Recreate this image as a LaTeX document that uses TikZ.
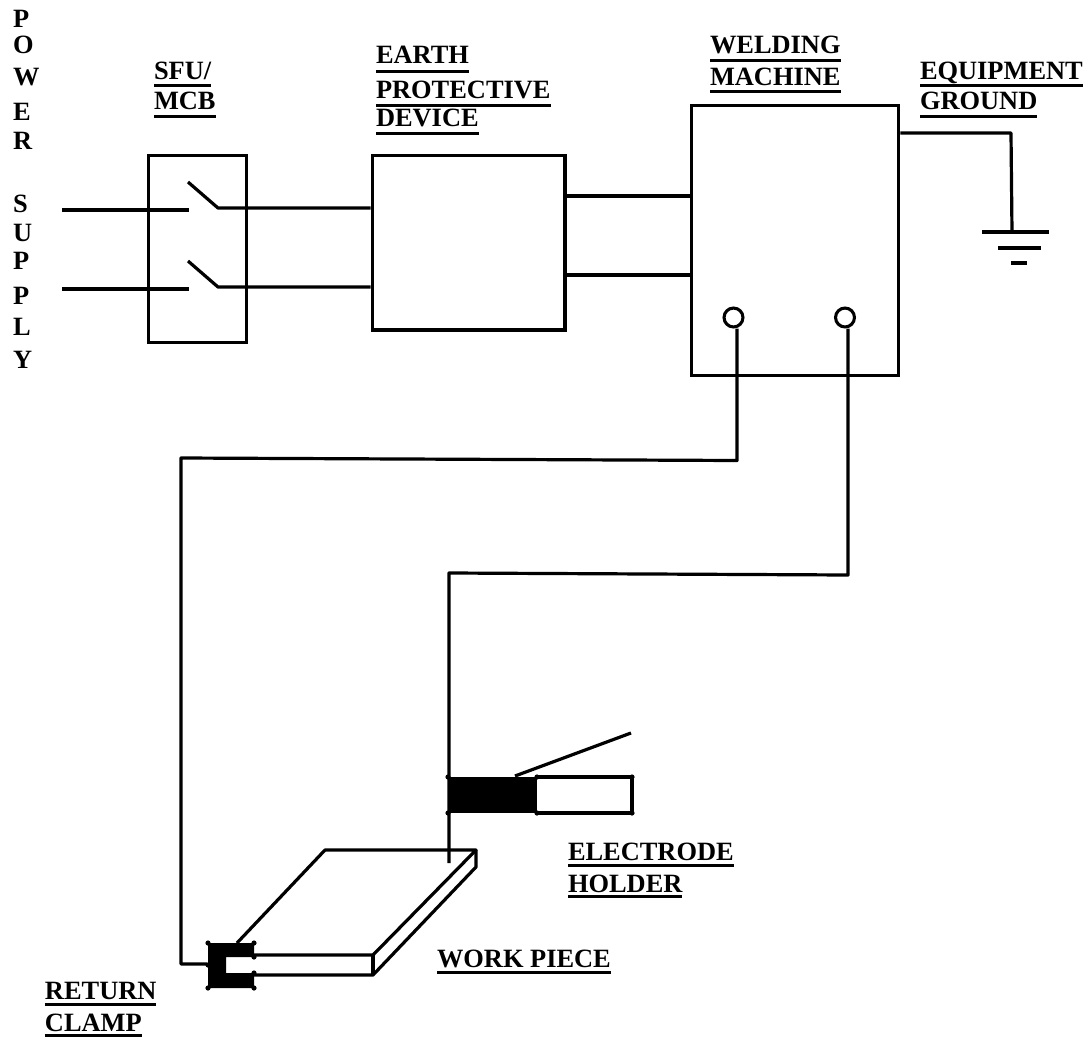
\documentclass[tikz,border=0pt]{standalone}
\usepackage{fontspec}
\setmainfont{Liberation Serif}
\newlength{\pxu}\setlength{\pxu}{0.75pt}
\newsavebox{\ulbox}
% \ulword[offset of the rule below the baseline, in px]{text}
\newcommand{\ulword}[2][7]{\sbox{\ulbox}{#2}\rlap{\usebox{\ulbox}}\vrule height \dimexpr-#1\pxu+1.5\pxu\relax depth \dimexpr#1\pxu+1.5\pxu\relax width \wd\ulbox}
\tikzset{
  px/.style={x=0.75pt,y=-0.75pt},
  wire/.style={line width=2.4pt,draw=black,line cap=butt,line join=round},
  box/.style={line width=2.5pt,draw=black,inner sep=0pt},
  term/.style={circle,draw=black,line width=2.3pt,minimum size=14.2pt,inner sep=0pt},
  label/.style={font=\fontsize{19.8pt}{23.5pt}\bfseries\selectfont,align=left,anchor=base west,inner sep=0pt,outer sep=0pt},
}
\begin{document}
\begin{tikzpicture}[px]
\useasboundingbox (0,0) rectangle (1090,1039);
% boxes
\node[box,minimum width=73.5pt,minimum height=140pt] (sfu) at (197.5,249) {};
\node[box,minimum width=144.5pt,minimum height=131pt] (epd) at (468.5,242.5) {};
\node[box,minimum width=155.5pt,minimum height=202.5pt] (wm) at (795,240.5) {};
% supply and switches
\coordinate (in1) at (62,210); \coordinate (c1) at (189,210); \coordinate (s1) at (188,182); \coordinate (o1) at (218,208);
\coordinate (in2) at (62,289); \coordinate (c2) at (189,289); \coordinate (s2) at (188,261); \coordinate (o2) at (218,287);
\draw[wire] (in1) -- (c1);
\draw[wire] (in2) -- (c2);
\draw[wire] (s1) -- (o1) -- (epd.west |- o1);
\draw[wire] (s2) -- (o2) -- (epd.west |- o2);
\draw[wire] (epd.east |- 0,196) -- (wm.west |- 0,196);
\draw[wire] (epd.east |- 0,275) -- (wm.west |- 0,275);
% terminals
\node[term] (t1) at (733.5,317.5) {};
\node[term] (t2) at (845,317.5) {};
% ground
\coordinate (g0) at (1011,133); \coordinate (g1) at (1012,232);
\draw[wire] (wm.east |- g0) -- (g0) -- (g1);
\coordinate (gaL) at (982,232); \coordinate (gaR) at (1049,232);
\coordinate (gbL) at (998,248); \coordinate (gbR) at (1041,248);
\coordinate (gcL) at (1011,263); \coordinate (gcR) at (1027,263);
\draw[wire] (gaL) -- (gaR);
\draw[wire] (gbL) -- (gbR);
\draw[wire] (gcL) -- (gcR);
% cables
\coordinate (k1) at (737,460.5); \coordinate (k2) at (181,458); \coordinate (k3) at (181,964);
\coordinate (m1) at (848,575); \coordinate (m2) at (449,573); \coordinate (m3) at (449,863);
\coordinate (clampL) at (207,964);
\draw[wire] (k1 |- t1.south) -- (k1) -- (k2) -- (k3) -- (clampL);
\draw[wire] (m1 |- t2.south) -- (m1) -- (m2) -- (m3);
% work piece
\coordinate (wa) at (237,943); \coordinate (wb) at (325,850); \coordinate (wc) at (476,850);
\coordinate (wd) at (373,955); \coordinate (we) at (373,975); \coordinate (wf) at (476,867);
\coordinate (wg) at (252,955); \coordinate (wh) at (252,975);
\draw[wire] (wa) -- (wb) -- (wc) -- (wd) -- (wg);
\draw[wire] (wh) -- (we) -- (wf) -- (wc);
\draw[wire] (wd) -- (we);
% clamp
\fill[black] (208,943) -- (254,943) -- (254,957) -- (226,957) -- (226,973) -- (254,973) -- (254,988) -- (208,988) -- cycle;
\foreach \hx/\hy in {208/943,254/943,254/957,254/973,254/988,208/988,208/965}
  \fill[black] (\hx,\hy) circle[radius=2.6];
% holder
\coordinate (ha) at (449,777); \coordinate (hb) at (537,777); \coordinate (hc) at (632,777); \coordinate (hd) at (632,813); \coordinate (he) at (537,813); \coordinate (hf) at (449,813);
\fill[black] (ha) rectangle (he);
\draw[wire] (hb) -- (hc) -- (hd) -- (he);
\foreach \hx/\hy in {448/777,537/777,632/777,448/813,537/813,632/813}
  \fill[black] (\hx,\hy) circle[radius=2.6];
\coordinate (ta) at (515,776); \coordinate (tb) at (631,733);
\draw[wire] (ta) -- (tb);
% labels
\node[label] (ps) at (13,368) {P\\[-4pt]O\\[0.5pt]W\\[2.75pt]E\\[-1.75pt]R\\[23.75pt]S\\[-1.75pt]U\\[-2.5pt]P\\[2.75pt]P\\[-0.25pt]L\\[1.25pt]Y};
\node[label] (lsfu) at (154,109) {\ulword[6]{SFU/}\\[-1pt]\ulword{MCB}};
\node[label] (lepd) at (376,126) {\ulword[8]{EARTH}\\[2.75pt]\ulword{PROTECTIVE}\\[-2.5pt]\ulword{DEVICE}};
\node[label] (lwm) at (710,85) {\ulword{WELDING}\\\ulword[6]{MACHINE}};
\node[label] (leg) at (920,109) {\ulword[6.5]{EQUIPMENT}\\[-1pt]\ulword{GROUND}};
\node[label] (leh) at (568,892) {\ulword[4.5]{ELECTRODE}\\\ulword[4.5]{HOLDER}};
\node[label] (lwp) at (437,967) {\ulword[5]{WORK PIECE}};
\node[label] (lrc) at (45,1031) {\ulword[5]{RETURN}\\\ulword[4.5]{CLAMP}};
\end{tikzpicture}
\end{document}
